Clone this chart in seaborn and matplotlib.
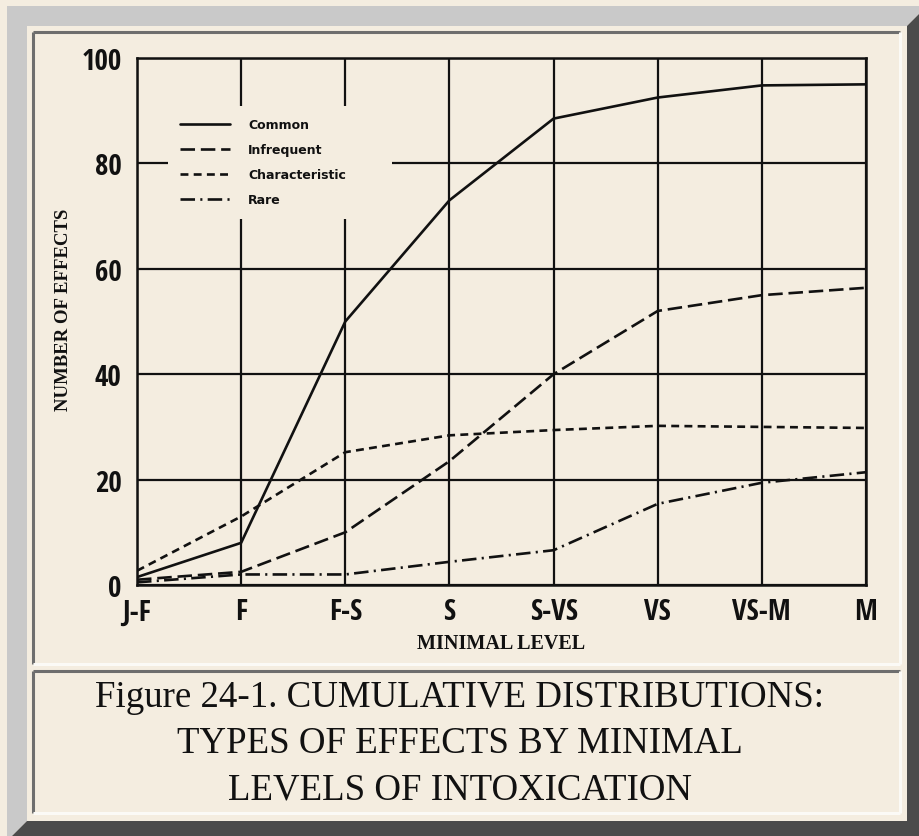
import matplotlib.pyplot as plt
import pandas as pd
import seaborn as sns
from matplotlib.patches import Polygon

# values
LEVELS = ["J-F", "F", "F-S", "S", "S-VS", "VS", "VS-M", "M"]
COMMON = [1.5, 8, 50, 73, 88.5, 92.5, 94.8, 95]
INFREQUENT = [1, 2.5, 10, 23.5, 40, 52, 55, 56.4]
CHARACTERISTIC = [2.7, 13, 25.2, 28.4, 29.4, 30.2, 30, 29.8]
RARE = [0.5, 2, 2, 4.4, 6.6, 15.4, 19.4, 21.4]
TYPES = ["Common", "Infrequent", "Characteristic", "Rare"]
Y_TICKS = [0, 20, 40, 60, 80, 100]

CAPTION = ("Figure 24-1. CUMULATIVE DISTRIBUTIONS:\n"
           "TYPES OF EFFECTS BY MINIMAL\n"
           "LEVELS OF INTOXICATION")

PAPER = "#f4ede0"
INK = "#111111"
LIGHT_GREY = "#c9c9c9"
DARK_GREY = "#4b4b4b"

W, H = 919, 837

df = pd.DataFrame({
    "level": LEVELS * 4,
    "count": COMMON + INFREQUENT + CHARACTERISTIC + RARE,
    "type": [t for t in TYPES for _ in LEVELS],
})

DASHES = {
    "Common": "",
    "Infrequent": (5.5, 2.2),
    "Characteristic": (3.0, 2.0),
    "Rare": (5.5, 2.0, 0.8, 2.0),
}
NARROW = ["Liberation Sans Narrow", "DejaVu Sans Condensed",
          "Open Sans Condensed", "Roboto Condensed", "DejaVu Sans"]

sns.set_theme(style="white")
plt.rcParams["font.family"] = NARROW
plt.rcParams["font.stretch"] = "condensed"
plt.rcParams["font.weight"] = "light"

fig = plt.figure(figsize=(W / 100, H / 100), dpi=100, facecolor=PAPER)

# page decoration: bevelled frame and two inset panels, drawn in pixel space
bg = fig.add_axes([0, 0, 1, 1], zorder=-1)
bg.set_xlim(0, W)
bg.set_ylim(H, 0)
bg.axis("off")
bg.add_patch(Polygon([(7, 7), (927, 7), (907, 27), (27, 27), (27, 822), (7, 842)],
                     closed=True, facecolor=LIGHT_GREY, edgecolor="none"))
bg.add_patch(Polygon([(927, 7), (927, 842), (7, 842), (27, 822), (907, 822), (907, 27)],
                     closed=True, facecolor=DARK_GREY, edgecolor="none"))


def inset_panel(x0, y0, x1, y1):
    bg.plot([x0, x1], [y0, y0], color="#6e6e6e", lw=2.2, solid_capstyle="butt")
    bg.plot([x0, x0], [y0, y1], color="#6e6e6e", lw=2.2, solid_capstyle="butt")
    bg.plot([x0, x1], [y1, y1], color="#fbfaf6", lw=2.2, solid_capstyle="butt")
    bg.plot([x1, x1], [y0, y1], color="#fbfaf6", lw=2.2, solid_capstyle="butt")


inset_panel(33, 33, 900, 665)
inset_panel(33, 672, 900, 814)

# chart
ax = fig.add_axes([137 / W, 1 - 586 / H, (866 - 137) / W, (586 - 59) / H])
ax.set_facecolor("none")

sns.lineplot(data=df, x="level", y="count", style="type", dashes=DASHES,
             color=INK, linewidth=1.9, sort=False, errorbar=None,
             ax=ax, legend=True, zorder=3)

ax.set_xlim(0, len(LEVELS) - 1)
ax.set_ylim(0, 100)
ax.set_yticks(Y_TICKS)
ax.grid(True, color=INK, linewidth=1.6)
ax.set_axisbelow(True)
for side in ax.spines.values():
    side.set_color(INK)
    side.set_linewidth(1.8)

ax.tick_params(axis="both", length=0, labelsize=21, colors=INK)
ax.tick_params(axis="y", pad=11)
ax.tick_params(axis="x", pad=9)

ax.set_xlabel("MINIMAL LEVEL", family="Liberation Serif", fontweight="bold",
              stretch="normal", fontsize=14.5, color=INK, labelpad=5)
ax.set_ylabel("NUMBER OF EFFECTS", family="Liberation Serif", fontweight="bold",
              stretch="normal", fontsize=13.5, color=INK)
ax.yaxis.set_label_coords((72 - 137) / 729, (586 - 310) / 527)

handles, labels = ax.get_legend_handles_labels()
pairs = [(h, l) for h, l in zip(handles, labels) if l in TYPES]
leg = ax.legend([p[0] for p in pairs], [p[1] for p in pairs],
                loc="upper left", bbox_to_anchor=(0.0425, 0.909, 0.307, 0.0),
                mode="expand", borderaxespad=0, borderpad=1.0,
                handlelength=4.0, handletextpad=1.4, labelspacing=0.95,
                frameon=True, fancybox=False, facecolor=PAPER,
                edgecolor="none", framealpha=1.0,
                prop={"family": "DejaVu Sans", "weight": "bold",
                      "size": 9, "stretch": "normal"})
for line in leg.get_lines():
    line.set_color(INK)
    line.set_linewidth(1.9)
for txt in leg.get_texts():
    txt.set_color(INK)

fig.text(0.5, 1 - 744 / H, CAPTION, ha="center", va="center",
         family="Liberation Serif", stretch="normal", weight="normal",
         fontsize=26.6, linespacing=1.45, color=INK)

fig.savefig("out.png", dpi=100, facecolor=PAPER)
